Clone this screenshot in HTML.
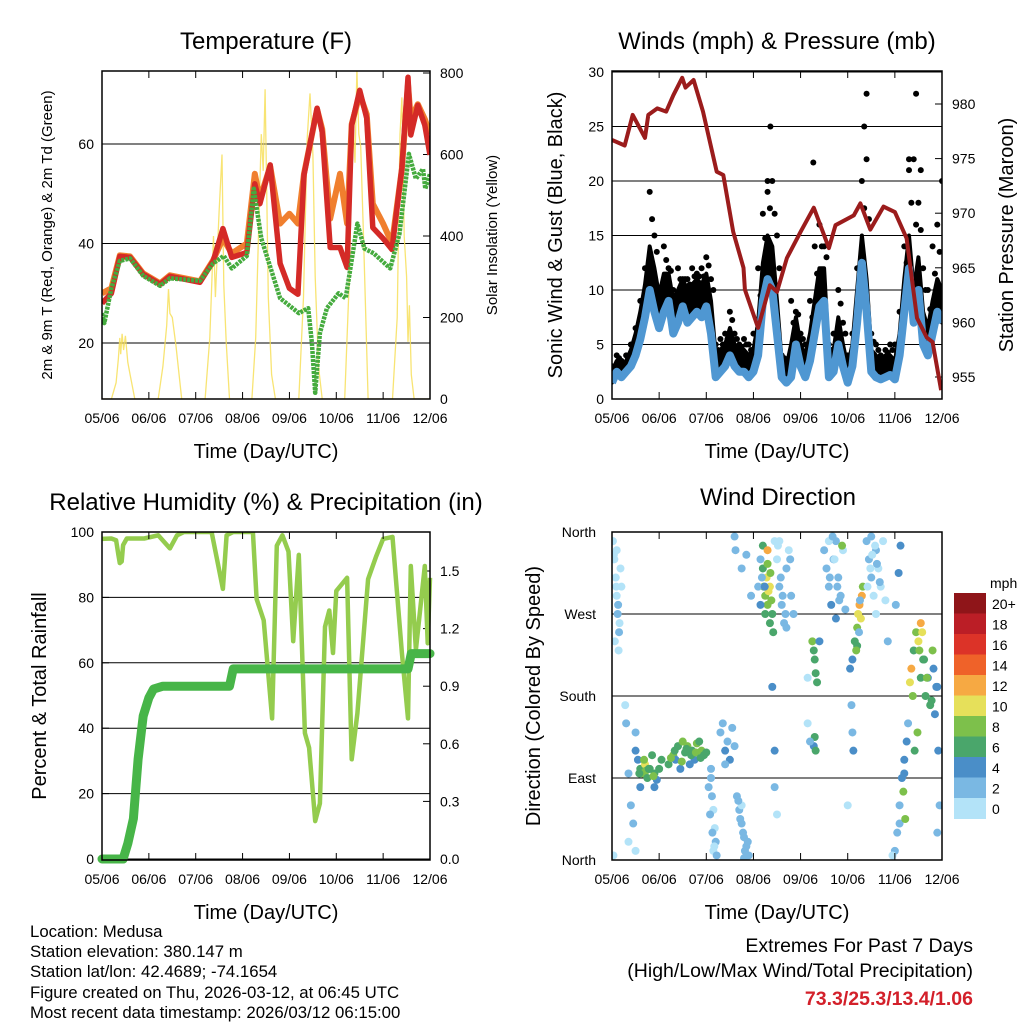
<!DOCTYPE html>
<html><head><meta charset="utf-8">
<style>
html,body{margin:0;padding:0;background:#fff;}
svg{display:block;font-family:"Liberation Sans",sans-serif;}
</style></head>
<body>
<svg id="fig" width="1024" height="1024" viewBox="0 0 1024 1024" xmlns="http://www.w3.org/2000/svg">
<rect x="0" y="0" width="1024" height="1024" fill="#fff"/>
<g id="p1"></g>
<g id="p2"></g>
<g id="p3"></g>
<g id="p4"></g>
<g font-size="16.8" fill="#000">
<text x="30" y="937">Location: Medusa</text>
<text x="30" y="957">Station elevation: 380.147 m</text>
<text x="30" y="977">Station lat/lon: 42.4689; -74.1654</text>
<text x="30" y="998">Figure created on Thu, 2026-03-12, at 06:45 UTC</text>
<text x="30" y="1018">Most recent data timestamp: 2026/03/12 06:15:00</text>
</g>
<g font-size="19.5" text-anchor="end">
<text x="973" y="952">Extremes For Past 7 Days</text>
<text x="973" y="977">(High/Low/Max Wind/Total Precipitation)</text>
<text x="973" y="1005" fill="#d3202a" font-weight="bold">73.3/25.3/13.4/1.06</text>
</g>
</svg>
<script>
// ---------- DATA ----------
const dayLabels = ["05/06","06/06","07/06","08/06","09/06","10/06","11/06","12/06"];
// Temperature panel
const tT = [0,0.2,0.38,0.6,0.88,1.24,1.45,2.09,2.37,2.58,2.77,3.09,3.26,3.37,3.59,3.8,4.0,4.18,4.31,4.59,4.7,4.87,5.08,5.23,5.33,5.5,5.65,5.78,6.0,6.19,6.4,6.53,6.59,6.74,6.89,7.0];
const temp9m = [28,30,37.4,37.2,33.8,31.8,33.4,32.2,36.4,43,37.2,38.2,52,48,55.8,36,31,29.8,53.8,67.2,62.4,39.2,39.2,35.2,63.8,70.8,65.2,43.2,41,38.8,55.2,73.4,61.8,67.8,63.8,57.8];
const temp2m = [30,31,37.6,37.4,34,32,33.6,32.4,36.6,41,38,40,54,49,55.5,44,46,44,54,67,63,45,54,44,64,70,66,48,44,40,55,72,65,68,65,62];
const tG = [0,0.05,0.2,0.38,0.6,0.88,1.24,1.45,2.09,2.37,2.6,2.77,3.09,3.24,3.4,3.6,3.8,4.2,4.4,4.48,4.55,4.65,4.8,5.05,5.2,5.45,5.6,5.8,6.15,6.35,6.55,6.7,6.85,6.9,7.0];
const dewpt = [26,24,31,36.5,37,33.5,31.5,33,32.5,36,37.5,35,37.5,51,41,35,29,26,27,20,10,22,27,30,29,44,39,38,35,42,58,53,55,51,54];
const solT = [0,0.2,0.3,0.35,0.38,0.4,0.43,0.46,0.5,0.55,0.6,0.7,1.2,1.3,1.38,1.42,1.45,1.5,1.58,1.7,2.2,2.3,2.38,2.42,2.5,2.56,2.6,2.65,2.72,3.2,3.28,3.35,3.4,3.44,3.48,3.52,3.55,3.62,3.7,4.2,4.3,4.38,4.44,4.5,4.55,4.62,4.7,5.18,5.28,5.35,5.4,5.44,5.48,5.52,5.58,5.68,6.2,6.3,6.36,6.4,6.45,6.5,6.53,6.56,6.6,6.66,7.0];
const solV = [0,0,40,100,150,110,160,120,155,90,60,0,0,80,180,270,210,200,130,0,0,150,400,250,460,600,280,140,0,0,150,450,650,560,760,480,250,60,0,0,250,640,750,600,300,80,0,0,300,700,580,810,650,620,400,0,0,200,650,740,400,300,140,230,60,0,0];
const tempTicks = [20,40,60];
const solTicks = [0,200,400,600,800];
// Wind panel (0.1-day steps)
const windV = [1.5,2.5,2,2.5,3,4,5.5,7.5,10,8,6.5,8,9,6,7,8.5,7,7.5,8,7.5,8.5,6,2,2.5,3,4,3,2.5,2.5,2,2.5,4,9,11,10,6,2,1.5,2,5,3,2,3.5,6,8.5,9,2,2.5,5,3,1.5,3,7,12.5,8,2.5,2,1.8,2,2.2,1.8,4,8,12,7,10,5,4,6,8,7];
const gustDense = [2.5,3.5,3,3.5,4.5,6,8,10.5,14,12,9.5,11.5,11.5,9,10,11,10,10.5,11,10.5,11.5,9,4,4.5,5,6.5,5,4.5,4.5,4,4.5,7,12.5,15,14,9,3.5,3,5,7.5,5,4,6,9,12,12,4,4.5,7.5,5,3,5,10,15,11,4.5,4,3.5,4,4,3.5,6,11,15,10,13,8,6.5,9,11,10];
const gustV = [3,4,3.5,4,5,6.5,9,12,19,15,10,14,12,10,12,11,11,12,11.5,12,13,11,5,5.5,6,8,6,5,5.5,5,6,12,17,20,20,15,4,3.5,9,8,6,5,9,14,16,14,5,6,10,7,4,6,12,20,22,6,5,4,4.5,5,5,8,14,21,22,18,12,10,14,16,20];
const peakT = [3.36,4.27,5.4,6.45,6.3,6.55,3.3,5.35];
const peakV = [25,21.7,28,28,22,21,19,25];
const tP = [0,0.27,0.44,0.7,0.77,0.96,1.15,1.3,1.49,1.56,1.73,1.93,2.22,2.36,2.57,2.79,2.82,3.1,3.35,3.5,3.71,4.0,4.28,4.6,4.74,5.13,5.27,5.48,5.76,6.0,6.25,6.47,6.68,6.8,6.98];
const pres = [976.7,976.2,979,976.9,979,979.6,979.3,980.8,982.4,981.5,982.2,979.3,973.8,973.5,968.3,965,963,959.5,963.4,962.8,965.9,968.3,970.5,966.8,968.9,969.8,970.9,968.5,970.6,970.1,967.7,960.4,958.6,958.2,953.8];
const windTicks = [0,5,10,15,20,25,30];
const presTicks = [955,960,965,970,975,980];
// RH panel
const tRH = [0,0.2,0.3,0.35,0.38,0.42,0.45,0.53,0.9,1.2,1.45,1.6,1.75,2.34,2.45,2.58,2.66,2.8,3.22,3.3,3.45,3.63,3.73,3.85,3.98,4.08,4.2,4.33,4.42,4.55,4.65,4.76,4.85,4.93,5.0,5.23,5.33,5.45,5.68,5.85,6.0,6.2,6.4,6.53,6.59,6.7,6.89,6.95,7.0];
const rh = [97.9,98,97.5,93,90.5,91,96,98,98,99,95,99,100,100,92,82.6,99,100,100,79.5,73,43,95.8,99,94,66.6,93,38.5,34,11.6,17,71,76,63,82,86,30.5,44.6,85.6,92.5,97.9,98.5,63,43,89.6,64,89.6,66,86];
const tPr = [0,0.45,0.55,0.67,0.77,0.88,1.0,1.1,1.3,1.45,2.72,2.8,6.53,6.6,7.0];
const precip = [0,0,0.08,0.21,0.52,0.745,0.84,0.885,0.9,0.9,0.9,0.99,0.99,1.07,1.07];
const rhTicks = [0,20,40,60,80,100];
const prTicks = [0.0,0.3,0.6,0.9,1.2,1.5];
// Wind direction panel
const wdTime = [0.02,0.05,0.08,0.1,0.12,0.15,0.18,0.06,0.1,0.03,0.2,0.14,0.3,0.35,0.4,0.45,0.35,0.5,0.28,0.5,0.55,0.6,0.65,0.7,0.72,0.75,0.8,0.85,0.9,0.95,1.0,0.6,0.9,0.5,1.05,1.2,1.3,1.4,1.5,1.55,1.6,1.7,1.75,1.8,1.9,1.95,1.35,1.65,1.45,1.85,2.0,2.1,2.12,2.15,2.18,2.2,2.15,2.1,2.22,2.3,2.35,2.4,2.45,2.5,2.55,2.6,2.4,2.65,2.7,2.75,2.8,2.85,2.9,2.8,2.75,2.6,2.62,2.75,2.85,2.95,3.15,3.2,3.22,3.25,3.28,3.3,3.32,3.35,3.38,3.4,3.25,3.35,3.2,3.3,3.42,3.1,3.15,3.45,3.5,3.55,3.6,3.65,3.7,3.75,3.8,3.85,3.55,3.7,3.4,3.45,3.45,3.5,4.25,4.28,4.3,4.32,4.35,4.3,4.28,4.32,4.4,4.15,4.15,4.2,4.5,4.55,4.6,4.65,4.7,4.75,4.8,4.85,4.9,4.95,4.6,4.75,5.05,5.1,5.15,5.2,5.22,5.25,5.28,5.3,5.32,5.2,5.1,5.12,5.08,5.0,5.4,5.45,5.5,5.55,5.6,5.65,5.7,5.75,5.8,5.5,5.6,5.85,6.0,6.05,6.1,6.15,6.2,6.25,6.28,6.1,5.95,6.2,6.32,6.35,6.38,6.4,6.45,6.5,6.52,6.55,6.6,6.65,6.7,6.75,6.8,6.85,6.9,6.55,6.58,6.95,6.92,6.9,0.04,0.09,0.13,0.16,0.58,0.68,0.78,0.88,1.25,1.33,1.48,1.58,1.68,1.78,1.88,2.05,2.08,2.13,2.17,2.68,2.72,2.78,2.82,2.88,3.18,3.24,3.3,3.36,3.52,3.58,3.62,3.68,3.78,4.62,4.68,4.72,4.78,4.82,4.88,5.18,5.24,5.26,5.42,5.48,5.52,5.58,5.62,5.68,6.02,6.08,6.12,6.18,6.22,6.42,6.48,6.62,6.68,6.78,6.82,6.88];
const wdDir = [350,330,310,290,270,250,320,240,340,5,300,230,150,95,60,40,20,10,170,120,110,100,95,105,98,90,100,115,95,88,100,80,80,140,110,105,115,125,130,118,125,120,110,128,120,115,110,105,100,130,118,90,70,55,35,20,10,100,5,140,150,120,130,110,145,125,105,70,55,40,25,15,5,2,60,355,340,320,335,290,330,320,300,290,310,280,295,300,285,270,270,260,345,340,250,300,280,350,330,300,280,260,320,340,290,270,350,255,190,120,80,50,240,230,220,205,195,135,125,120,240,200,150,130,340,320,300,280,330,350,310,290,340,275,350,265,210,220,240,255,270,280,265,290,300,235,140,120,170,60,350,330,310,290,340,320,300,350,285,355,270,240,10,30,60,90,110,130,150,40,5,95,195,210,180,230,250,240,230,200,220,180,200,170,230,160,190,260,250,60,120,30,335,300,280,260,95,110,100,92,112,120,108,122,115,118,112,80,50,30,15,65,45,30,10,20,310,300,325,315,345,310,290,270,330,310,355,330,300,285,345,230,250,285,300,320,335,345,325,305,280,315,345,75,45,120,140,220,200,175,210,190,165,185];
const wdSpd = [1,1,1,1,2,2,1,1,1,1,1,1,2,2,2,2,1,1,1,5,5,6,8,10,9,6,7,6,7,5,6,4,4,3,6,7,8,7,8,6,8,7,5,8,8,6,5,4,5,7,7,2,2,1,1,2,1,3,2,3,2,4,3,4,2,3,3,2,2,2,3,2,2,2,1,2,2,2,3,2,3,6,8,8,10,9,11,10,8,7,7,6,6,12,6,3,4,1,1,2,3,3,2,1,2,3,1,2,4,4,2,1,8,7,7,6,6,6,5,6,4,1,1,3,2,2,3,4,3,2,2,3,1,3,1,4,4,4,6,8,10,12,10,12,8,7,3,4,2,1,3,2,2,1,2,1,1,1,1,3,1,2,2,3,3,4,4,5,3,2,1,4,10,12,8,6,8,10,8,6,7,7,4,6,8,4,4,12,10,2,4,2,1,1,2,1,6,8,7,9,8,7,8,7,6,8,7,2,2,2,1,2,2,2,2,3,2,4,8,9,1,2,2,2,2,3,2,1,3,2,8,9,2,2,1,1,1,1,2,3,3,4,4,8,9,7,8,6,8,6];
const dirLabels = ["North","West","South","East","North"];
const dirTicks = [360,270,180,90,0];
const speedBins = ["0","2","4","6","8","10","12","14","16","18","20+"];
const speedColors = ["#b3e3f8","#7ab8e3","#4a8ec8","#4aa66b","#7dc04b","#e6e05a","#f6a943","#ef6229","#dc3328","#bb1e26","#8f1519"];

// ---------- HELPERS ----------
const NS = "http://www.w3.org/2000/svg";
function mk(parent, tag, attrs, txt){
  const e = document.createElementNS(NS, tag);
  for (const k in attrs) e.setAttribute(k, attrs[k]);
  if (txt !== undefined) e.textContent = txt;
  parent.appendChild(e);
  return e;
}
function scale(d0,d1,r0,r1){ return v => r0 + (v-d0)*(r1-r0)/(d1-d0); }
function pathFrom(xs, ys, fx, fy){
  let s = "";
  for (let i=0;i<xs.length;i++) s += (i?"L":"M") + fx(xs[i]).toFixed(1) + "," + fy(ys[i]).toFixed(1);
  return s;
}
function frame(g, X0, Y0, X1, Y1, fx){
  const f = mk(g,"rect",{x:X0,y:Y0,width:X1-X0,height:Y1-Y0,fill:"none",stroke:"#000","stroke-width":1.5});
  
  
  for (let d=0; d<=7; d++){
    const x = fx(d);
    mk(g,"line",{x1:x,y1:Y1,x2:x,y2:Y1-7,stroke:"#000","stroke-width":1});
    mk(g,"line",{x1:x,y1:Y0,x2:x,y2:Y0+7,stroke:"#000","stroke-width":1});
    const t = mk(g,"text",{x:x,y:Y1+24,"font-size":14,"text-anchor":"middle"},dayLabels[d]);
    
    
  }
  const xl = mk(g,"text",{x:(X0+X1)/2,y:Y1+59,"font-size":20,"text-anchor":"middle"},"Time (Day/UTC)");
  
  
}
function title(g, x, y, txt){
  const t = mk(g,"text",{x:x,y:y,"font-size":24,"text-anchor":"middle"},txt);
  
  
}
function vlabel(g, x, y, txt, size){
  const t = mk(g,"text",{x:x,y:y,"font-size":size,"text-anchor":"middle",transform:`rotate(-90 ${x} ${y})`},txt);
  
  
}
function leftTicks(g, ticks, fy, X0, X1, fmt, grid){
  ticks.forEach(v=>{
    const y = fy(v);
    if (grid) mk(g,"line",{x1:X0,y1:y,x2:X1,y2:y,stroke:"#000","stroke-width":1});
    mk(g,"line",{x1:X0,y1:y,x2:X0+7,y2:y,stroke:"#000","stroke-width":1});
    const t = mk(g,"text",{x:X0-8,y:y+5,"font-size":14,"text-anchor":"end"},fmt(v));
    
    
  });
}
function rightTicks(g, ticks, fy, X1, fmt){
  ticks.forEach(v=>{
    const y = fy(v);
    mk(g,"line",{x1:X1,y1:y,x2:X1-7,y2:y,stroke:"#000","stroke-width":1});
    const t = mk(g,"text",{x:X1+10,y:y+5,"font-size":14},fmt(v));
    
    
  });
}

// ---------- PANEL 1 ----------
(function(){
  const g = document.getElementById("p1");
  const X0=102,X1=430,Y0=71,Y1=399;
  const fx = scale(0,7,X0,X1);
  const fy = scale(20,60,343,144);
  const fs = scale(0,800,399,73);
  title(g,266,49,"Temperature (F)");
  leftTicks(g,tempTicks,fy,X0,X1,v=>v,true);
  rightTicks(g,solTicks,fs,X1,v=>v);
  const cp = mk(g,"clipPath",{id:"c1"}); mk(cp,"rect",{x:X0,y:Y0,width:X1-X0,height:Y1-Y0});
  const d = mk(g,"g",{"clip-path":"url(#c1)"});
  const sol = mk(d,"path",{d:pathFrom(solT,solV,fx,fs),fill:"none",stroke:"#f7df5a","stroke-width":1.3,opacity:0.85});
  
  
  const o = mk(d,"path",{d:pathFrom(tT,temp2m,fx,fy),fill:"none",stroke:"#f07f2e","stroke-width":6,"stroke-linejoin":"round"});
  
  
  const r = mk(d,"path",{d:pathFrom(tT,temp9m,fx,fy),fill:"none",stroke:"#d42a27","stroke-width":5.5,"stroke-linejoin":"round"});
  
  
  const gr = mk(d,"path",{d:pathFrom(tG,dewpt,fx,fy),fill:"none",stroke:"#45ab3e","stroke-width":4.5,"stroke-linejoin":"round","stroke-dasharray":"3 1"});
  
  
  frame(g,X0,Y0,X1,Y1,fx);
  vlabel(g,52,235,"2m & 9m T (Red, Orange) & 2m Td (Green)",15);
  vlabel(g,497,235,"Solar Insolation (Yellow)",15);
})();

// ---------- PANEL 2 ----------
(function(){
  const g = document.getElementById("p2");
  const X0=612,X1=942,Y0=71,Y1=399;
  const fx = scale(0,7,X0,X1);
  const fy = scale(0,30,399,72);
  const fp = scale(955,980,377,104);
  title(g,777,49,"Winds (mph) & Pressure (mb)");
  leftTicks(g,windTicks,fy,X0,X1,v=>v,true);
  rightTicks(g,presTicks,fp,X1,v=>v);
  const cp = mk(g,"clipPath",{id:"c2"}); mk(cp,"rect",{x:X0,y:Y0,width:X1-X0,height:Y1-Y0});
  const d = mk(g,"g",{"clip-path":"url(#c2)"});
  const tW = windV.map((_,i)=>i*0.1);
  let s = pathFrom(tW,gustDense,fx,fy);
  for (let i=tW.length-1;i>=0;i--) s += "L"+fx(tW[i]).toFixed(1)+","+fy(windV[i]).toFixed(1);
  const band = mk(d,"path",{d:s+"Z",fill:"#000",stroke:"#000","stroke-width":4,"stroke-linejoin":"round"});
  
  
  tW.forEach((t,i)=>{
    const c = mk(d,"circle",{cx:fx(t),cy:fy(gustV[i]),r:3,fill:"#000"});
    
    
    const c2 = mk(d,"circle",{cx:fx(t+0.05),cy:fy((gustV[i]+gustDense[i])/2),r:3,fill:"#000"});
    
    
  });
  peakT.forEach((t,i)=>{
    const c = mk(d,"circle",{cx:fx(t),cy:fy(peakV[i]),r:3,fill:"#000"});
    
    
  });
  const w = mk(d,"path",{d:pathFrom(tW,windV,fx,fy),fill:"none",stroke:"#4f97d2","stroke-width":8,"stroke-linejoin":"round"});
  
  
  const p = mk(d,"path",{d:pathFrom(tP,pres,fx,fp),fill:"none",stroke:"#9b1c1c","stroke-width":4,"stroke-linejoin":"round"});
  
  
  frame(g,X0,Y0,X1,Y1,fx);
  vlabel(g,562,235,"Sonic Wind & Gust (Blue, Black)",20);
  vlabel(g,1013,235,"Station Pressure (Maroon)",20);
})();

// ---------- PANEL 3 ----------
(function(){
  const g = document.getElementById("p3");
  const X0=102,X1=430,Y0=532,Y1=860;
  const fx = scale(0,7,X0,X1);
  const fy = scale(0,100,859,532);
  const fr = scale(0,1.5,859,571);
  title(g,266,510,"Relative Humidity (%) & Precipitation (in)");
  leftTicks(g,rhTicks,fy,X0,X1,v=>v,true);
  rightTicks(g,prTicks,fr,X1,v=>v.toFixed(1));
  const cp = mk(g,"clipPath",{id:"c3"}); mk(cp,"rect",{x:X0-6,y:Y0,width:X1-X0+12,height:Y1-Y0+6});
  const d = mk(g,"g",{"clip-path":"url(#c3)"});
  const r = mk(d,"path",{d:pathFrom(tRH,rh,fx,fy),fill:"none",stroke:"#94cc4e","stroke-width":4.5,"stroke-linejoin":"round"});
  
  
  const p = mk(d,"path",{d:pathFrom(tPr,precip,fx,fr),fill:"none",stroke:"#47b548","stroke-width":9,"stroke-linejoin":"round","stroke-linecap":"round"});
  
  
  frame(g,X0,Y0,X1,Y1,fx);
  vlabel(g,46,696,"Percent & Total Rainfall",20);
})();

// ---------- PANEL 4 ----------
(function(){
  const g = document.getElementById("p4");
  const X0=612,X1=942,Y0=532,Y1=860;
  const fx = scale(0,7,X0,X1);
  const fy = scale(0,360,860,532);
  title(g,778,505,"Wind Direction");
  dirTicks.forEach((v,i)=>{
    const y = fy(v);
    mk(g,"line",{x1:X0,y1:y,x2:X1,y2:y,stroke:"#000","stroke-width":1});
    const t = mk(g,"text",{x:X0-16,y:y+5,"font-size":14,"text-anchor":"end"},dirLabels[i]);
    
    
  });
  const cp = mk(g,"clipPath",{id:"c4"}); mk(cp,"rect",{x:X0,y:Y0,width:X1-X0,height:Y1-Y0});
  const d = mk(g,"g",{"clip-path":"url(#c4)"});
  wdTime.forEach((t,i)=>{
    const sp = (wdSpd[i] === undefined) ? 5 : wdSpd[i];
    const b = Math.max(0, Math.min(10, Math.floor(sp/2)));
    const c = mk(d,"circle",{cx:fx(t),cy:fy(wdDir[i]),r:4,fill:speedColors[b]});
    
    
  });
  frame(g,X0,Y0,X1,Y1,fx);
  vlabel(g,540,696,"Direction (Colored By Speed)",20);
  const lg = mk(g,"g",{});
  
  
  mk(lg,"text",{x:990,y:588,"font-size":14},"mph");
  const bh = 20.5;
  for (let i=0;i<speedBins.length;i++){
    const k = speedBins.length-1-i;
    const y = 593 + i*bh;
    const r = mk(lg,"rect",{x:954,y:y,width:32,height:bh+0.5,fill:speedColors[k]});
    
    
    const t = mk(lg,"text",{x:992,y:y+16,"font-size":14},speedBins[k]);
    
    
  }
})();
</script>
</body></html>
